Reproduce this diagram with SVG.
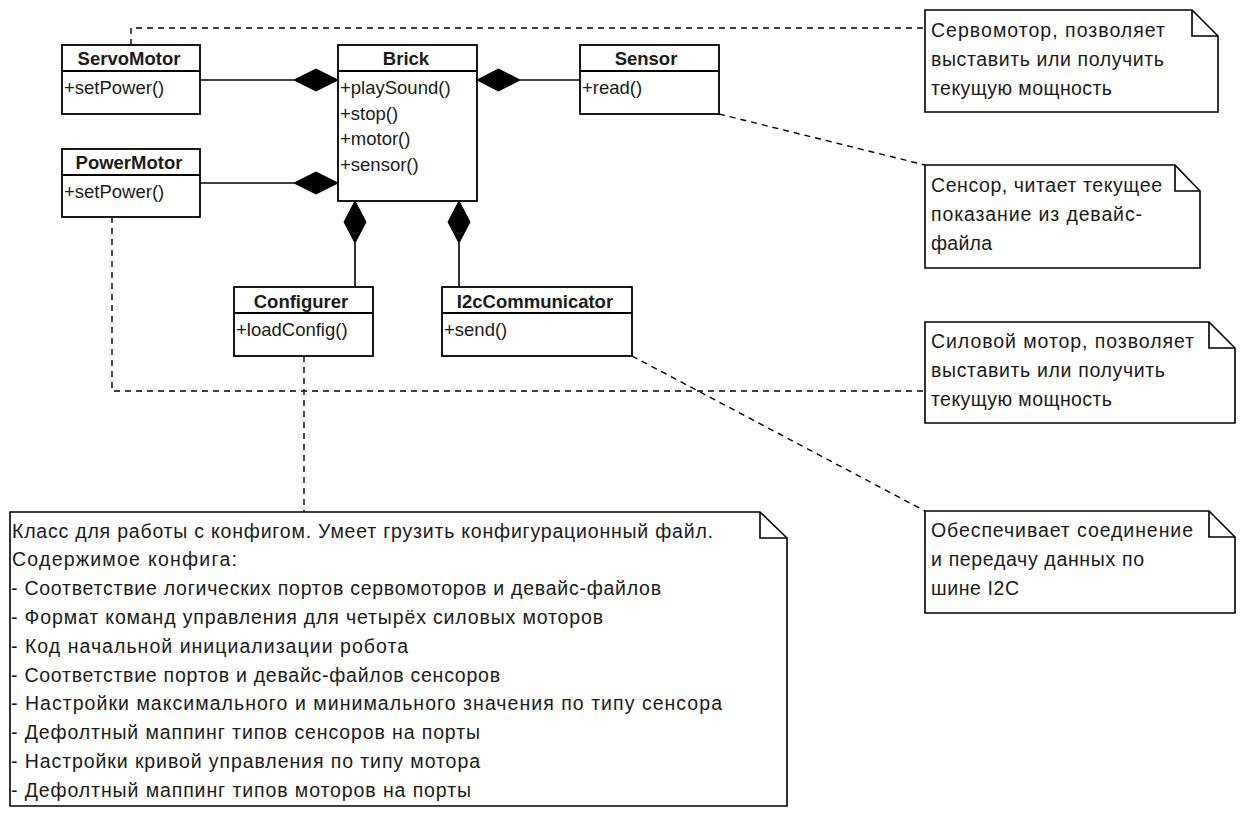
<svg xmlns="http://www.w3.org/2000/svg" width="1240" height="816" viewBox="0 0 1240 816">
<style>
.box{fill:#fff;stroke:#000;stroke-width:1.8}
.div{stroke:#000;stroke-width:1.8}
.note{fill:#fff;stroke:#000;stroke-width:1.6}
.fold{fill:none;stroke:#000;stroke-width:1.6}
.name{font-family:"Liberation Sans",Arial,sans-serif;font-size:18.5px;font-weight:bold;fill:#1a1a1a;text-anchor:middle}
.m{font-family:"Liberation Sans",Arial,sans-serif;font-size:18.5px;fill:#1a1a1a}
.t{font-family:"Liberation Sans",Arial,sans-serif;font-size:19.5px;fill:#1a1a1a}
.solid{fill:none;stroke:#000;stroke-width:1.6}
.dash{fill:none;stroke:#000;stroke-width:1.4;stroke-dasharray:6 5}
.dia{fill:#000;stroke:#000;stroke-width:1}
</style>
<rect width="1240" height="816" fill="#fff"/>
<g id="connectors">
<path class="dash" d="M131,45 V28 H925"/>
<path class="dash" d="M719,114 L925,165"/>
<path class="dash" d="M112,217 V391 H925"/>
<path class="dash" d="M304,356 V512"/>
<path class="dash" d="M632,356 L925,511"/>
<path class="solid" d="M200,80 H294"/>
<polygon class="dia" points="338,80 316,69 294,80 316,91"/>
<path class="solid" d="M200,183 H294"/>
<polygon class="dia" points="338,183 316,172 294,183 316,194"/>
<path class="solid" d="M520,80 H580"/>
<polygon class="dia" points="477,80 498.5,69 520,80 498.5,91"/>
<path class="solid" d="M355,243 V287"/>
<polygon class="dia" points="355,201 366,222 355,243 344,222"/>
<path class="solid" d="M459,243 V287"/>
<polygon class="dia" points="459,201 470,222 459,243 448,222"/>
</g>
<g id="ServoMotor">
<rect class="box" x="62" y="45" width="138" height="69"/>
<line class="div" x1="62" y1="71" x2="200" y2="71"/>
<text class="name" x="129" y="65">ServoMotor</text>
<text class="m" x="64" y="94">+setPower()</text>
</g>
<g id="PowerMotor">
<rect class="box" x="62" y="149" width="138" height="68"/>
<line class="div" x1="62" y1="175" x2="200" y2="175"/>
<text class="name" x="129" y="169">PowerMotor</text>
<text class="m" x="64" y="197.5">+setPower()</text>
</g>
<g id="Brick">
<rect class="box" x="338" y="45" width="139" height="156"/>
<line class="div" x1="338" y1="71" x2="477" y2="71"/>
<text class="name" x="406" y="65">Brick</text>
<text class="m" x="340" y="94">+playSound()</text>
<text class="m" x="340" y="119.5">+stop()</text>
<text class="m" x="340" y="145">+motor()</text>
<text class="m" x="340" y="170.5">+sensor()</text>
</g>
<g id="Sensor">
<rect class="box" x="580" y="45" width="139" height="69"/>
<line class="div" x1="580" y1="71" x2="719" y2="71"/>
<text class="name" x="646" y="65">Sensor</text>
<text class="m" x="582" y="94">+read()</text>
</g>
<g id="Configurer">
<rect class="box" x="234" y="287" width="139" height="69"/>
<line class="div" x1="234" y1="313" x2="373" y2="313"/>
<text class="name" x="301" y="307.5">Configurer</text>
<text class="m" x="236" y="336">+loadConfig()</text>
</g>
<g id="I2cCommunicator">
<rect class="box" x="442" y="287" width="190" height="69"/>
<line class="div" x1="442" y1="313" x2="632" y2="313"/>
<text class="name" x="535" y="307.5">I2cCommunicator</text>
<text class="m" x="444" y="336">+send()</text>
</g>
<g id="note-servo">
<path class="note" d="M925,10 H1192 L1218,36 V112 H925 Z"/>
<path class="fold" d="M1192,10 V36 H1218"/>
<text class="t" x="931" y="36.5" textLength="234" lengthAdjust="spacing">Сервомотор, позволяет</text>
<text class="t" x="931" y="65.5" textLength="233" lengthAdjust="spacing">выставить или получить</text>
<text class="t" x="931" y="94.5" textLength="181" lengthAdjust="spacing">текущую мощность</text>
</g>
<g id="note-sensor">
<path class="note" d="M925,165 H1175 L1200,191 V268 H925 Z"/>
<path class="fold" d="M1175,165 V191 H1200"/>
<text class="t" x="931" y="192" textLength="231" lengthAdjust="spacing">Сенсор, читает текущее</text>
<text class="t" x="931" y="221" textLength="211" lengthAdjust="spacing">показание из девайс-</text>
<text class="t" x="931" y="250" textLength="61" lengthAdjust="spacing">файла</text>
</g>
<g id="note-powermotor">
<path class="note" d="M925,322 H1209 L1235,348 V423 H925 Z"/>
<path class="fold" d="M1209,322 V348 H1235"/>
<text class="t" x="931" y="348" textLength="263" lengthAdjust="spacing">Силовой мотор, позволяет</text>
<text class="t" x="931" y="377" textLength="234" lengthAdjust="spacing">выставить или получить</text>
<text class="t" x="931" y="406" textLength="181" lengthAdjust="spacing">текущую мощность</text>
</g>
<g id="note-i2c">
<path class="note" d="M925,511 H1209 L1235,537 V613 H925 Z"/>
<path class="fold" d="M1209,511 V537 H1235"/>
<text class="t" x="931" y="537" textLength="262" lengthAdjust="spacing">Обеспечивает соединение</text>
<text class="t" x="931" y="566" textLength="213" lengthAdjust="spacing">и передачу данных по</text>
<text class="t" x="931" y="595" textLength="88" lengthAdjust="spacing">шине I2C</text>
</g>
<g id="note-configurer">
<path class="note" d="M10,512 H760 L787,538 V806 H10 Z"/>
<path class="fold" d="M760,512 V538 H787"/>
<text class="t" x="12" y="537.5" textLength="701" lengthAdjust="spacing">Класс для работы с конфигом. Умеет грузить конфигурационный файл.</text>
<text class="t" x="12" y="566.3" textLength="225" lengthAdjust="spacing">Содержимое конфига:</text>
<text class="t" x="11" y="595.1" textLength="650" lengthAdjust="spacing">- Соответствие логических портов сервомоторов и девайс-файлов</text>
<text class="t" x="11" y="623.9" textLength="592" lengthAdjust="spacing">- Формат команд управления для четырёх силовых моторов</text>
<text class="t" x="11" y="652.7" textLength="397" lengthAdjust="spacing">- Код начальной инициализации робота</text>
<text class="t" x="11" y="681.5" textLength="489" lengthAdjust="spacing">- Соответствие портов и девайс-файлов сенсоров</text>
<text class="t" x="11" y="710.3" textLength="711" lengthAdjust="spacing">- Настройки максимального и минимального значения по типу сенсора</text>
<text class="t" x="11" y="739.1" textLength="469" lengthAdjust="spacing">- Дефолтный маппинг типов сенсоров на порты</text>
<text class="t" x="11" y="767.9" textLength="469" lengthAdjust="spacing">- Настройки кривой управления по типу мотора</text>
<text class="t" x="11" y="796.7" textLength="460" lengthAdjust="spacing">- Дефолтный маппинг типов моторов на порты</text>
</g>
</svg>
